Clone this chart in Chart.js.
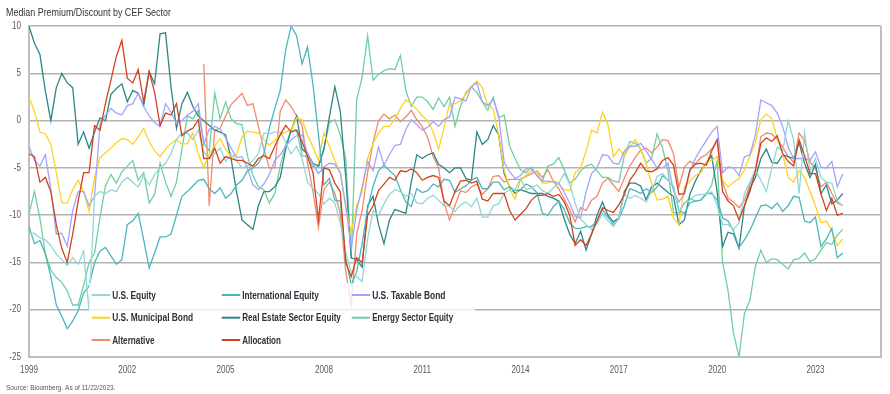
<!DOCTYPE html>
<html><head><meta charset="utf-8">
<script src="https://cdn.jsdelivr.net/npm/chart.js@4/dist/chart.umd.min.js"></script>
<style>html,body{margin:0;padding:0;background:#fff}#wrap{width:890px;height:394px}</style>
</head><body><div id="wrap"><canvas id="c" width="890" height="394"></canvas></div>
<script>
// ---------- DATA (bi-monthly, Jan 1999 .. Nov 2023; axis runs to Jan 2025) ----------
const periods = [];
for (let y = 1999; y <= 2025; y++) for (const m of ['01','03','05','07','09','11']) { if (y === 2025 && m !== '01') break; periods.push(y + '-' + m); }
const tickYears = ['1999','2002','2005','2008','2011','2014','2017','2020','2023'];
const seriesNames = ['U.S. Equity','International Equity','U.S. Taxable Bond','U.S. Municipal Bond','Real Estate Sector Equity','Energy Sector Equity','Alternative','Allocation'];

const usEquity = [
 -11.9,-11.9,-12.4,-12.6,-13.2,-14.1, -14.7,-15.3,-14.5,-15.2,-13.8,-20.1, -8,-7.5,-7.7,-7.3,-7.5,-6.5, -6,-6.5,-7,-5.8,-6.8,-5.7,
 -5,-4.5,-3.5,-2,-1.3,-1.3, -2,-1,-3.3,-4,-3.5,-2.9, -4.3,-3.6,-4.2,-5,-4.8,-4.2, -3.5,-1.3,-1.4,-1.2,-1.2,-2.3,
 -3.5,-2.7,-4,-6.5,-7.2,-7.7, -8.8,-8.2,-8.7,-10.8,-14,-16, -16.5,-17,-12.5,-9.5,-10,-8.8, -7.8,-7.3,-7.5,-8,-7.7,-8.7,
 -8.8,-8.2,-7.9,-8.4,-9,-9, -9.6,-8.9,-8.6,-9.1,-8.2,-10.2, -10.2,-9,-8.8,-7.7,-7.3,-7.3, -6.1,-7.3,-7.1,-6.8,-7.4,-7.7,
 -7.1,-6.6,-5.6,-6.7,-8.7,-10.4, -11,-11.5,-10.9,-9.8,-10.6,-11.2, -10.3,-7.8,-8.2,-7.9,-8.2,-8.6, -7.5,-5.9,-5.6,-6.3,-6.9,-9.6,
 -8.7,-8.4,-7.9,-7.8,-7.8,-7.5, -9,-11,-11,-11.5,-10.8,-7.7, -6.5,-5.2,-6.3,-7.5,-5,-2.8, -3.2,0,-2,-7.7,-1.2,-5.4,
 -4,-6,-6.5,-6.6,-8.5,-9];
const internationalEquity = [
 -11.2,-13,-12.7,-14.1,-16.5,-19.5, -20.7,-22,-21.2,-20.1,-18.2,-17.5, -15,-13.8,-13.4,-14.3,-15.2,-14.7, -11,-10.6,-9.8,-12.6,-15.6,-14,
 -12.3,-12.3,-12,-10,-8,-7.5, -6.9,-6.3,-6.2,-7.2,-7.7,-7.1, -8.2,-7.7,-6.8,-6.3,-5.3,-5, -4.5,-3.5,-0.8,1.3,3.2,7.5,
 10,9,6,7.8,3.8,-1.5, -6.8,-6.1,-8.4,-8.5,-14.6,-17.4, -16,-13,-9.3,-6.9,-5.3,-4.7, -5.3,-5.8,-7.3,-8.6,-9.1,-7.2,
 -7.6,-7.4,-6.7,-7,-6.2,-6.3, -7.6,-7.2,-6.9,-6.3,-6,-7.2, -7.2,-6.5,-6.5,-7.3,-7,-7.4, -7.3,-6.7,-7,-7.6,-9.8,-10,
 -9.1,-8.5,-9.4,-10.8,-11.4,-11.4, -11.2,-11.2,-10.6,-9.4,-10.2,-11, -10.4,-9,-7.2,-7.4,-7.7,-7.2, -7.6,-7,-5.8,-6.3,-7,-9.5,
 -9.8,-8.7,-8.5,-8.4,-7.7,-7.7, -8.4,-10.3,-10.6,-11.7,-13.4,-12.6, -11.6,-10.3,-9,-8.9,-9.3,-8.7, -9.6,-9,-8,-8.1,-10.6,-10.8,
 -10.2,-13.3,-12.5,-11.4,-14.5,-14];
const usTaxableBond = [
 -2.7,-4.2,-4.8,-3.6,-7.3,-12, -11.9,-13.3,-9.5,-7.5,-7.5,-9, -8,-0.4,0.6,1.3,0.8,0.6, 1.6,1.8,2.9,1.5,0.5,-0.2,
 -0.6,1.8,0.9,-0.3,0,0.6, 1,1.8,-2.5,-0.9,-0.6,-0.9, -1.8,-2.9,-3.9,-3.8,-5,-6.8, -7.3,-6.7,-5.7,-4.2,-3.6,-2.7,
 -2,-1.6,-1.5,-3.5,-4.6,-5.6, -4.9,-4.5,-4.6,-5.5,-9,-13.5, -9.5,-7,-4.3,-5.3,-2.8,-4.7, -3.6,-2.6,-2.5,-0.9,0.1,-0.4,
 -1,-0.7,-0.1,-0.6,0.1,0.4, 2.5,2.3,2.1,3.6,4,2, 1.6,2.3,0.5,-4.4,-5.4,-6.1, -5.8,-5.1,-5.1,-5.8,-6.4,-6.4,
 -6.5,-6.6,-7.6,-8.7,-10.1,-10.3, -7.5,-5.6,-5,-3.6,-3.7,-4.5, -4.6,-3.2,-2.7,-2.7,-2.4,-3.2, -4.1,-5,-5,-4.5,-7.4,-8.6,
 -7.7,-5.4,-4,-3,-2.1,-1.2, -0.6,-5.5,-4.9,-5,-5.8,-3.8, -3.6,-1.5,2.2,1.9,1.6,0.8, -0.6,-2.8,-4,-4,-4,-4.2,
 -3.3,-4.9,-5,-4.3,-7,-5.6];
const municipalBond = [
 2.5,1,-1.2,-1.4,-2.5,-5.5, -8.7,-8.7,-7.3,-6.3,-7.5,-9.6, -6,-3.9,-3.4,-2.9,-2.3,-1.9, -2,-2.5,-1.7,-0.8,-2.2,-3.2,
 -3.8,-3,-2.4,-2,-2.5,-2.4, -1.3,-3.5,-5,-3.5,-2.7,-1.9, -3,-3.8,-3.6,-1.7,-1.1,-1.2, -1.3,-2,-2.6,-2.1,-1.5,-1.2,
 -1,0.3,0.1,-1.5,-2.8,-4.2, -1.3,-2.7,-4.2,-5.5,-9.2,-11.8, -9,-7.5,-4,-2.4,-1.3,-0.6, -0.6,0.2,1.3,2.2,1.8,1.2,
 0.5,0,-1.2,-3,-0.7,1.8, 1.8,2.1,2.8,3.6,4.2,3.5, 1.6,1.3,-1.6,-5.2,-7.2,-8.3, -6.2,-5.8,-5.3,-5.4,-6.6,-6.6,
 -6.3,-6.7,-7.3,-7.4,-5.5,-5, -3.2,-1,-1.3,0.9,-0.4,-3.8, -3,-3.7,-2.8,-2,-3,-4.5, -6.7,-8.4,-8.3,-8,-10.3,-11,
 -7,-6.4,-5.8,-5.5,-4.4,-4.2, -3.8,-6.3,-7,-6.5,-6.1,-5.2, -3.7,-2.3,0.1,0.7,0.2,-1.9, -3.5,-6,-6.5,-5.3,-6,-7.5,
 -9,-10.8,-10.6,-11.7,-13.2,-12.5];
const realEstate = [
 10,8.2,7,3.1,0,3.5, 5,4,3.5,-2.5,-1.2,-2.9, -1.2,0.3,0,2.8,3.4,3.9, 2,3.2,2.9,1.6,5.2,3.9,
 9.2,9.3,3.6,-0.8,1.8,3, 1.5,0.5,0,-0.5,-1,-1.2, -1.5,-4,-7.5,-10.5,-11,-11.5, -9,-7.5,-7.5,-7,-6,-3,
 -1,0.5,-3,-3.5,-4.5,-4.8, -3,0.4,3.6,1,-6,-14.5, -14.7,-15.5,-9,-8,-11,-13, -10.5,-9.4,-9.6,-9.8,-6.5,-3.6,
 -4,-3.6,-3.4,-4.6,-5,-5.5, -5,-5,-6.1,-6.3,-1.2,-2.5, -2,-0.5,-1.5,-5.6,-7,-7.7, -7.3,-7.5,-7.7,-7.7,-7.7,-8,
 -8.2,-8.5,-10.4,-12,-13,-11.7, -13.7,-12,-10,-8.6,-10,-10.7, -10.3,-7.5,-6.6,-6.6,-6.9,-8.4, -7,-6.6,-7.1,-7.6,-8,-11,
 -10.5,-7.8,-6.4,-5.3,-4.5,-3.7, -7.5,-13.3,-11.8,-12,-13.5,-9, -7.2,-6,-4,-3,-4.4,-4.5, -3.6,-3.8,-4,-2.3,-4.5,-6,
 -4.6,-7.7,-6.8,-8.8,-8.4,-7.7];
const energy = [
 -9.8,-7.5,-10.3,-14.1,-15.8,-16.6, -17.1,-18,-19.5,-19.5,-17.4,-15, -14,-10.2,-6.9,-5.7,-6.6,-5.4, -4.8,-4.2,-6.3,-5.5,-8.7,-7.8,
 -4.5,-6.5,-8,-6.5,-3,0.5, 0.2,1.1,-2.4,-3.2,2.9,0.2, 2,0.2,-0.3,-0.4,-3.7,-5.8, -7,-7.3,-8.7,-7.7,-4.8,-2.5,
 -1,-1,-3.7,-3.8,-4.9,-4.9, -3,-0.2,0.1,-1.5,-4,-14.6, 2.2,4.6,9,4.3,4.9,5.3, 5.5,5.4,6.9,3.2,1.5,2.5,
 2.5,2,1.2,2.4,1.5,2.5, -0.6,1.5,3,3.6,3,2, 1.1,2.5,0.3,0.6,-2.7,-4, -5.2,-5.5,-4.9,-5.8,-6.4,-4.8,
 -4.6,-3.9,-5.2,-6.6,-6.2,-5.3, -4.8,-4.6,-5.3,-6,-6,-6.4, -6.5,-3.7,-2.2,-2.4,-3,-4.5, -4,-1.4,-2.9,-5.3,-9.7,-9.8,
 -8.7,-8.2,-8.5,-8.4,-7.8,-6.8, -4.2,-15,-18,-22.5,-25,-20.4, -19,-15.4,-13.7,-15,-14.6,-14.7, -15.2,-15.7,-14.7,-14.6,-14,-14.9,
 -14.6,-13.7,-12.9,-13.1,-12.1,-11.5];
const alternative = [
 null,null,null,null,null,null, null,null,null,null,null,null, null,null,null,null,null,null, null,null,null,null,null,null,
 null,null,null,null,null,null, null,null,6,-9,-1,-0.8, 0.5,1.7,2.3,2.9,1.6,1.8, -0.6,-3,-5,-5,1,2.2,
 1.5,0.5,-0.5,-4.5,-7.5,-11.3, -7.3,-6.5,-7.7,-9.8,-16,-19.5, -12,-9.5,-5.5,-2.3,0,0.7, 0.2,0.6,-0.1,0.4,1.1,0.1,
 -0.6,-1.8,-3.8,-5,-8.7,-10.5, -9,-7.4,-7.6,-7,-6.7,-7.8, -7.2,-5.9,-5.8,-6.5,-6.2,-6.2, -6.2,-5.9,-5.6,-5.3,-6,-5.2,
 -6.4,-7.2,-8.3,-9.4,-10.7,-9.2, -9.5,-8.4,-8,-6.6,-6.1,-6.8, -7.5,-6.1,-4.8,-3.9,-3.1,-2.9, -3.4,-2.8,-2,-2.1,-3.5,-7,
 -4.9,-4.3,-4.6,-3.9,-3.6,-3, -2,-6.5,-8.2,-8.6,-9.2,-8.4, -6.8,-5.2,-1.7,-1.3,-1.4,-2, -2.8,-3.8,-4.4,-1.3,-2.1,-4.4,
 -5,-7,-6.5,-7.7,-8.7,-9];
const allocation = [
 -3.5,-3.8,-6.5,-6,-7.5,-11, -13.5,-15,-12,-8.5,-5.5,-5.5, -0.5,-1,1.8,4.3,6.8,8.5, 4.5,4,5.4,2,5.2,3,
 -0.5,0.8,0.6,1.8,-1.6,-1.1, -0.8,0.1,-4,-4,-2.9,-4.5, -3.8,-4,-4.2,-4.2,-4.5,-4.8, -4,-3.7,-4,-2.7,-1.5,-0.5,
 -1.2,-1,-2.2,-3.8,-5.5,-10.5, -5,-5.2,-6.6,-7.5,-15,-16.5, -14.5,-15,-10,-9,-7.4,-6.7, -6,-6.3,-5.3,-5.4,-5.1,-5.5,
 -6.3,-6,-5.8,-6,-8.5,-9, -7.5,-6.4,-6.3,-6.6,-6.4,-8.3, -8.5,-7.7,-7.7,-7.7,-9.5,-10.5, -9.9,-9.3,-8.4,-7.9,-7.9,-7.7,
 -8,-7.8,-8.6,-10,-13.2,-12.6, -13.2,-12,-10.6,-9.2,-9.5,-9.7, -8.9,-7.8,-6.3,-5.5,-4.5,-5.3, -5.4,-5.1,-4.2,-3.9,-4.7,-7.8,
 -7.7,-5.2,-4.6,-4.5,-4.7,-3.2, -2,-7.5,-8.5,-9,-10.5,-9, -7.5,-5.3,-2.4,-1.8,-2.2,-1.6, -3.5,-4.3,-4.8,-2,-3.7,-5.6,
 -5.6,-7.7,-9.5,-8.2,-10,-9.8];

const seriesValues = [usEquity, internationalEquity, usTaxableBond, municipalBond, realEstate, energy, alternative, allocation];
const seriesColors = ['#93d6d6','#4db5bd','#a3a3ff','#ffd21f','#2b8686','#70cfa0','#f08a6c','#d2431d'];

// ---------- FONT (narrow look: horizontally condensed Liberation Sans) ----------
const FONT = '"Liberation Sans", Arial, sans-serif';
const canvas = document.getElementById('c');
const cctx = canvas.getContext('2d');
const origFill = cctx.fillText;
cctx.fillText = function(t, x, y, mw) {
  const w = this.measureText(t).width * 0.81;
  const m = (mw === undefined || mw === null) ? w : Math.min(mw, w);
  return origFill.call(this, t, x, y, m > 0 ? m : 0.01);
};

// ---------- PLUGINS ----------
const framePlugin = {
  id: 'frame',
  beforeDatasetsDraw(chart){
    const {ctx, chartArea:a} = chart;
    ctx.save(); ctx.strokeStyle='#bfbfbf'; ctx.lineWidth=2;
    ctx.beginPath(); ctx.moveTo(a.right, a.top); ctx.lineTo(a.right, a.bottom); ctx.stroke(); ctx.restore();
  }
};
const legendTargets = [43.7, 76.7, 73.3, 81, 98.7, 81, 42.3, 38.7];
const legendPlugin = {
  id: 'boxLegend',
  afterDatasetsDraw(chart){
    const ctx = chart.ctx;
    ctx.save();
    ctx.fillStyle = 'rgba(255,255,255,0.78)';
    ctx.fillRect(89, 283, 386, 67);
    const cols = [91.7, 221.7, 351.7], rows = [295, 317.7, 340];
    ctx.font = 'bold 11px ' + FONT;
    ctx.textBaseline = 'middle';
    ctx.textAlign = 'left';
    seriesNames.forEach((name, i) => {
      const x = cols[i % 3], y = rows[Math.floor(i / 3)];
      ctx.strokeStyle = seriesColors[i]; ctx.lineWidth = 2;
      ctx.beginPath(); ctx.moveTo(x, y); ctx.lineTo(x + 18.5, y); ctx.stroke();
      ctx.fillStyle = '#2f2f3a';
      ctx.fillText(name, x + 20.5, y + 0.5, legendTargets[i]);
    });
    ctx.restore();
  }
};

// ---------- CHART ----------
const datasets = seriesNames.map((n, i) => ({
  label: n, data: seriesValues[i], borderColor: seriesColors[i], backgroundColor: seriesColors[i],
  borderWidth: 1.3, pointRadius: 0, tension: 0, fill: false, spanGaps: false,
  order: i === 7 ? -1 : i
}));

new Chart(canvas, {
  type: 'line',
  data: { labels: periods, datasets },
  plugins: [framePlugin, legendPlugin],
  options: {
    responsive: false, animation: false,
    layout: { padding: { left: 6, right: 9, top: 0, bottom: 0 } },
    plugins: {
      legend: { display: false }, tooltip: { enabled: false },
      title: { display: true, text: 'Median Premium/Discount by CEF Sector', align: 'start', color: '#333',
        font: { family: FONT, size: 11, weight: 'normal' }, padding: { top: 6, bottom: 7 } },
      subtitle: { display: true, text: 'Source: Bloomberg. As of 11/22/2023.', position: 'bottom', align: 'start', color: '#555',
        font: { family: FONT, size: 8 }, padding: { top: 6, bottom: 1.4 } }
    },
    scales: {
      x: {
        type: 'category',
        grid: { display: false, drawTicks: false },
        border: { display: true, color: '#bfbfbf', width: 2 },
        ticks: { autoSkip: false, maxRotation: 0, minRotation: 0, padding: 7, color: '#595959',
          font: { family: FONT, size: 10 },
          callback: (v, i) => { const l = periods[i]; return (l.endsWith('-01') && tickYears.includes(l.slice(0, 4))) ? l.slice(0, 4) : ''; } },
        afterFit: s => { s.height = 20; }
      },
      y: {
        min: -25, max: 10,
        ticks: { stepSize: 5, padding: 8, color: '#595959', font: { family: FONT, size: 10 } },
        grid: { color: '#b3b3b3', lineWidth: 1.5, drawTicks: false },
        border: { display: true, color: '#bfbfbf', width: 2 },
        afterFit: s => { s.width = 23; }
      }
    }
  }
});
</script></body></html>
